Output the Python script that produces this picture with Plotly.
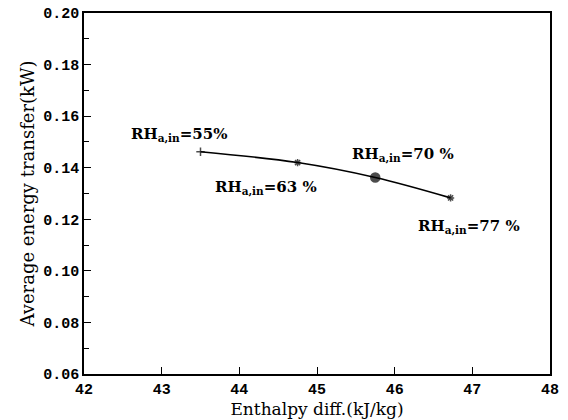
import plotly.graph_objects as go

enthalpy = [43.5, 44.75, 45.75, 46.72]
energy = [0.1462, 0.1420, 0.1362, 0.1283]
rh_labels = ["55%", "63 %", "70 %", "77 %"]
marker_symbols = ["cross-thin", "asterisk", "circle", "asterisk"]
marker_sizes = [6, 6, 9, 6]
x_ticks = [42, 43, 44, 45, 46, 47, 48]
y_ticks = [0.06, 0.08, 0.10, 0.12, 0.14, 0.16, 0.18, 0.20]

fig = go.Figure()
fig.add_trace(go.Scatter(
    x=enthalpy, y=energy, mode="lines+markers",
    line=dict(color="black", width=1.6, shape="spline"),
    marker=dict(symbol=marker_symbols, size=marker_sizes, color="black",
                line=dict(color="black", width=1.5)),
    showlegend=False,
))

label_offsets = [(-22, -17), (-32, 25), (28, -23), (18, 29)]
serif = "DejaVu Serif"
for xv, yv, lab, (ax, ay) in zip(enthalpy, energy, rh_labels, label_offsets):
    fig.add_annotation(
        x=xv, y=yv, text="<b>RH<sub>a,in</sub>=" + lab + "</b>",
        showarrow=False, xshift=ax, yshift=-ay,
        font=dict(family=serif, size=15, color="black"),
    )

axis_common = dict(
    showline=True, linecolor="black", linewidth=1.5, mirror=True,
    showgrid=False, zeroline=False, ticks="inside", tickcolor="black",
    tickwidth=1.2, ticklen=7, automargin=False,
    tickfont=dict(family="Liberation Mono", size=15, color="black", weight="bold"),
)

fig.update_xaxes(
    range=[42, 48], tickvals=x_ticks, ticktext=[str(v) for v in x_ticks],
    title=dict(text="Enthalpy diff.(kJ/kg)", font=dict(family=serif, size=17, color="black"), standoff=0),
    **axis_common,
)
fig.update_yaxes(
    range=[0.06, 0.20], tickvals=y_ticks, ticktext=["%.2f" % v for v in y_ticks],
    minor=dict(ticks="inside", ticklen=5, dtick=0.01, tickcolor="black", tickwidth=1.2),
    title=dict(text="Average energy transfer(kW)", font=dict(family=serif, size=18, color="black"), standoff=4),
    **axis_common,
)

fig.update_layout(
    width=568, height=420,
    margin=dict(l=84, r=18, t=13, b=46),
    plot_bgcolor="white", paper_bgcolor="white",
)

fig.write_html("out.html")
